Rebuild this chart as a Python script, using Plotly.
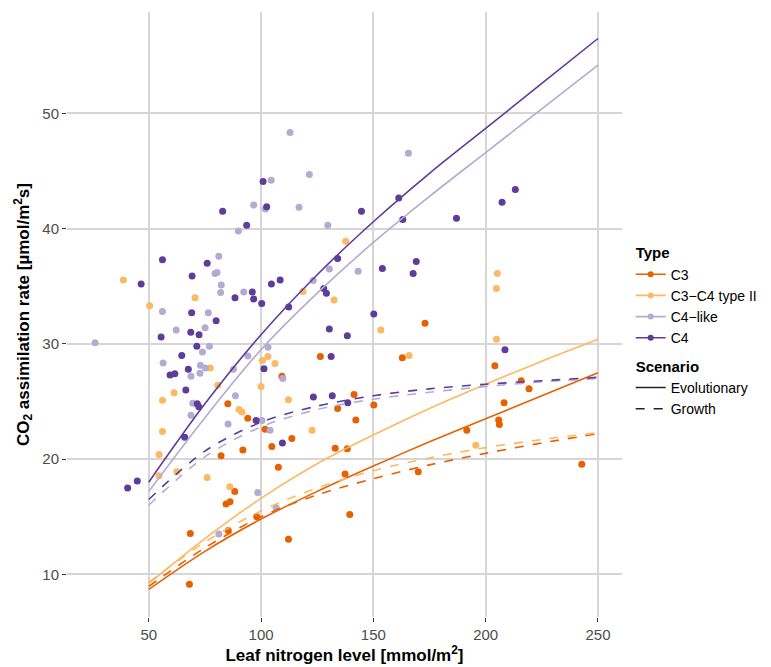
import plotly.graph_objects as go

# ---------------- data ----------------
types = ["C3", "C3\u2212C4 type II", "C4\u2212like", "C4"]
colors = ["#E66101", "#FDB863", "#B2ABD2", "#5E3C99"]

c3_x = [68.1, 68.5, 85.4, 84.4, 86.2, 88.3, 98.1, 82.2, 91.9, 85.2, 94.1, 101.8, 104.8, 107.7,
        109.3, 112.2, 113.7, 126.4, 133.0, 138.4, 134.1, 141.4, 142.2, 150.2, 137.4, 139.5,
        162.9, 173.0, 170.0, 191.6, 204.1, 208.2, 205.8, 206.1, 215.8, 219.3, 242.8]
c3_y = [9.15, 13.55, 13.8, 16.1, 16.3, 17.2, 15.0, 20.3, 20.8, 24.8, 23.55, 22.6, 21.1, 19.3,
        27.2, 13.05, 21.8, 28.9, 20.95, 20.9, 24.4, 25.6, 23.4, 24.7, 18.7, 15.2,
        28.8, 31.8, 18.9, 22.5, 28.1, 24.9, 23.4, 23.0, 26.8, 26.1, 19.55]

c3c4_x = [38.7, 50.4, 70.6, 56.1, 61.3, 77.4, 80.7, 56.1, 54.6, 54.6, 62.5, 76.0, 86.1, 90.2,
          91.5, 100.0, 100.6, 103.1, 106.2, 112.2, 118.7, 122.7, 132.5, 137.7, 153.3, 165.9,
          195.6, 204.8, 204.8, 205.2]
c3c4_y = [35.55, 33.3, 34.0, 25.1, 25.75, 27.9, 26.4, 22.4, 20.4, 18.55, 18.9, 18.4, 17.6, 24.3,
          24.1, 26.3, 28.55, 28.9, 28.3, 25.15, 34.55, 22.5, 33.8, 38.9, 31.2, 29.0,
          21.2, 30.4, 34.8, 36.1]

c4like_x = [26.1, 56.1, 62.2, 75.1, 76.5, 81.2, 79.5, 80.4, 82.3, 82.0, 92.3, 89.9, 96.7, 101.9,
            104.5, 77.0, 73.9, 56.4, 73.0, 75.2, 72.8, 68.8, 69.6, 68.8, 81.2, 94.1, 87.7, 88.6,
            100.4, 98.5, 106.7, 104.0, 121.5, 116.9, 129.7, 123.2, 130.4, 103.1, 112.9, 165.6,
            143.2, 109.7, 85.3]
c4like_y = [30.1, 32.8, 31.2, 31.4, 32.7, 37.6, 36.1, 36.2, 35.1, 34.45, 34.5, 39.8, 42.05, 41.7,
            44.2, 29.8, 29.3, 28.35, 28.15, 27.9, 27.45, 27.2, 24.85, 23.8, 13.5, 28.95, 27.8, 25.5,
            23.35, 17.1, 15.8, 22.5, 44.7, 41.85, 40.3, 35.5, 36.5, 29.7, 48.35, 46.55,
            36.3, 27.0, 23.05]

c4_x = [46.6, 56.1, 55.5, 69.3, 69.1, 68.7, 72.4, 76.0, 80.0, 88.4, 96.1, 96.7, 100.3, 104.6,
        108.5, 82.9, 93.6, 102.5, 100.9, 71.4, 64.7, 67.6, 59.5, 61.6, 66.5, 71.6, 72.3, 66.0,
        40.6, 44.9, 97.8, 101.3, 127.9, 129.1, 134.1, 112.3, 130.4, 144.7, 161.3, 163.1, 187.0,
        207.3, 213.2, 154.0, 169.1, 167.7, 150.2, 138.4, 131.2, 123.3, 131.7, 138.6, 109.5, 208.6]
c4_y = [35.2, 37.3, 30.6, 35.9, 32.7, 31.0, 30.8, 37.0, 32.0, 34.0, 34.5, 33.9, 33.5, 35.2,
        35.55, 41.5, 40.3, 41.9, 44.1, 29.8, 29.0, 27.8, 27.3, 27.4, 26.0, 24.8, 24.55, 21.9,
        17.5, 18.1, 23.35, 27.85, 34.8, 34.4, 37.4, 33.2, 31.3, 41.5, 42.65, 40.8, 40.9,
        42.3, 43.4, 36.55, 37.15, 36.1, 32.6, 30.7, 28.9, 25.4, 25.5, 24.9, 21.4, 29.5]

# model curves (values read at these nitrogen levels)
curve_x = [50, 75, 100, 125, 150, 175, 200, 225, 250]
evo_c3 = [8.7, 12.0, 14.8, 17.2, 19.4, 21.5, 23.5, 25.5, 27.5]
evo_c3c4 = [9.2, 13.1, 16.6, 19.6, 22.1, 24.4, 26.5, 28.5, 30.4]
evo_c4like = [17.2, 23.6, 29.5, 34.4, 38.8, 42.8, 46.6, 50.4, 54.2]
evo_c4 = [18.0, 24.8, 30.8, 36.0, 40.6, 44.8, 48.7, 52.6, 56.5]
gro_c3 = [8.95, 12.3, 15.0, 16.9, 18.3, 19.5, 20.5, 21.4, 22.2]
gro_c3c4 = [9.3, 12.8, 15.5, 17.5, 19.0, 20.1, 21.0, 21.7, 22.3]
gro_c4like = [16.0, 20.2, 22.8, 24.3, 25.2, 25.8, 26.3, 26.7, 27.0]
gro_c4 = [16.5, 20.7, 23.2, 24.6, 25.5, 26.1, 26.5, 26.8, 27.1]

x_ticks = [50, 100, 150, 200, 250]
y_ticks = [10, 20, 30, 40, 50]

points = [(c3_x, c3_y), (c3c4_x, c3c4_y), (c4like_x, c4like_y), (c4_x, c4_y)]
evo = [evo_c3, evo_c3c4, evo_c4like, evo_c4]
gro = [gro_c3, gro_c3c4, gro_c4like, gro_c4]

# ---------------- figure ----------------
fig = go.Figure()

for (px, py), col in zip(points, colors):
    fig.add_trace(go.Scatter(x=px, y=py, mode="markers",
                             marker=dict(color=col, size=7, line=dict(width=0)),
                             showlegend=False, hoverinfo="skip"))

for i, col in enumerate(colors):
    fig.add_trace(go.Scatter(x=curve_x, y=gro[i], mode="lines",
                             line=dict(color=col, width=1.6, dash="dash", shape="spline", smoothing=0.9),
                             showlegend=False, hoverinfo="skip"))
    fig.add_trace(go.Scatter(x=curve_x, y=evo[i], mode="lines",
                             line=dict(color=col, width=1.6, shape="spline", smoothing=0.9),
                             showlegend=False, hoverinfo="skip"))

# legend entries
for name, col in zip(types, colors):
    fig.add_trace(go.Scatter(x=[None], y=[None], mode="lines+markers", name=name,
                             legendgroup="type",
                             legendgrouptitle=dict(text="<b>Type</b>", font=dict(size=15, color="#000")),
                             line=dict(color=col, width=1.6),
                             marker=dict(color=col, size=6)))
for name, dash in [("Evolutionary", "solid"), ("Growth", "dash")]:
    fig.add_trace(go.Scatter(x=[None], y=[None], mode="lines", name=name,
                             legendgroup="scen",
                             legendgrouptitle=dict(text="<b>Scenario</b>", font=dict(size=15, color="#000")),
                             line=dict(color="#222", width=1.6, dash=dash)))

axis_common = dict(showline=False, zeroline=False, showgrid=True,
                   gridcolor="#D6D6D6", gridwidth=1.5,
                   ticks="outside", ticklen=4, tickcolor="#333", tickwidth=1,
                   tickfont=dict(size=15, color="#4D4D4D"))

fig.update_layout(
    width=771, height=667,
    margin=dict(l=67, r=149, t=12, b=50),
    paper_bgcolor="white", plot_bgcolor="white",
    font=dict(family="Liberation Sans, Arial, sans-serif", color="#000"),
    xaxis=dict(range=[13.6, 260.7], tickvals=x_ticks, automargin=False,
               title=dict(text="<b>Leaf nitrogen level [mmol/m<sup>2</sup>]</b>",
                          font=dict(size=17), standoff=6),
               **axis_common),
    yaxis=dict(range=[6.3, 58.8], tickvals=y_ticks, automargin=False,
               title=dict(text="<b>CO<sub>2</sub> assimilation rate [\u00b5mol/m<sup>2</sup>s]</b>",
                          font=dict(size=17), standoff=8),
               **axis_common),
    legend=dict(xref="container", yref="container", x=0.818, y=0.646,
                xanchor="left", yanchor="top",
                font=dict(size=14, color="#000"), tracegroupgap=6,
                itemwidth=30, bgcolor="rgba(0,0,0,0)"),
)

fig.write_html("out.html", config={"displayModeBar": False},
               post_script="document.body.style.margin='0';")
